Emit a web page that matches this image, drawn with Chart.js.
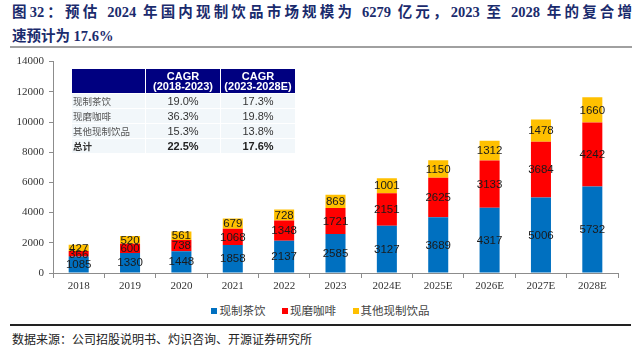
<!DOCTYPE html>
<html>
<head>
<meta charset="utf-8">
<script src="https://cdn.jsdelivr.net/npm/chart.js@4.4.1/dist/chart.umd.min.js"></script>
<style>
  body { margin: 0; background: #fff; width: 641px; height: 359px; overflow: hidden; position: relative; font-family: "Liberation Serif", "Noto Sans CJK SC", serif; }
  .title { position: absolute; left: 12px; top: 0; width: 620px; color: #1a2b6d; font-weight: bold; font-size: 14.5px; line-height: 24px; }
  .title .l1 { text-align: justify; text-align-last: justify; }
  .rule1 { position: absolute; left: 10px; top: 46px; width: 622px; height: 2px; background: #a0a0a0; }
  .rule2 { position: absolute; left: 10px; top: 324px; width: 621px; height: 1.5px; background: #222; }
  .source { position: absolute; left: 12px; top: 330px; font-size: 12px; color: #222; font-family: "Noto Sans CJK SC", sans-serif; }
  #wrap { position: absolute; left: 0; top: 50px; width: 641px; height: 250px; }
  .legend { position: absolute; top: 302px; left: 0; width: 641px; text-align: center; font-size: 11.5px; color: #444; font-family: "Noto Sans CJK SC", sans-serif; }
  .legend span.item { margin: 0 7px; }
  .legend i { display: inline-block; width: 6px; height: 6px; margin-right: 2px; vertical-align: 1px; }
  table.cagr { position: absolute; left: 71px; top: 68px; border-collapse: separate; border-spacing: 1px; font-family: "Liberation Sans", Arial, sans-serif; }
  table.cagr td { padding: 0; height: 14px; font-size: 11px; color: #333; background: #f2f7fa; text-align: center; line-height: 14px; }
  table.cagr td.n { text-align: left; padding-left: 1px; font-size: 9.5px; color: #555; font-family: "Noto Sans CJK SC", sans-serif; }
  table.cagr tr.h td { background: #000080; color: #fff; font-weight: bold; height: 24px; line-height: 10.5px; }
  table.cagr tr.t td { font-weight: bold; color: #222; }
</style>
</head>
<body>
<div class="title">
  <div class="l1">图32：预估 2024 年国内现制饮品市场规模为 6279 亿元，2023 至 2028 年的复合增</div>
  <div>速预计为 17.6%</div>
</div>
<div class="rule1"></div>
<div id="wrap"><canvas id="chart"></canvas></div>
<table class="cagr">
  <tr class="h"><td style="width:73px"></td><td style="width:74px">CAGR<br>(2018-2023)</td><td style="width:74px">CAGR<br>(2023-2028E)</td></tr>
  <tr><td class="n">现制茶饮</td><td>19.0%</td><td>17.3%</td></tr>
  <tr><td class="n">现磨咖啡</td><td>36.3%</td><td>19.8%</td></tr>
  <tr><td class="n">其他现制饮品</td><td>15.3%</td><td>13.8%</td></tr>
  <tr class="t"><td class="n" style="font-weight:bold;color:#333">总计</td><td>22.5%</td><td>17.6%</td></tr>
</table>
<div class="legend">
  <span class="item"><i style="background:#0070C0"></i>现制茶饮</span>
  <span class="item"><i style="background:#FF0000"></i>现磨咖啡</span>
  <span class="item"><i style="background:#FFC000"></i>其他现制饮品</span>
</div>
<div class="rule2"></div>
<div class="source">数据来源：公司招股说明书、灼识咨询、开源证券研究所</div>

<script>
const years = ['2018', '2019', '2020', '2021', '2022', '2023', '2024E', '2025E', '2026E', '2027E', '2028E'];
const teaValues = [1085, 1330, 1448, 1858, 2137, 2585, 3127, 3689, 4317, 5006, 5732];
const coffeeValues = [366, 600, 738, 1068, 1348, 1721, 2151, 2625, 3133, 3684, 4242];
const otherValues = [427, 520, 561, 679, 728, 869, 1001, 1150, 1312, 1478, 1660];
const yTicks = [0, 2000, 4000, 6000, 8000, 10000, 12000, 14000];

// labels in the middle of each segment
const segmentLabels = {
  id: 'segmentLabels',
  afterDatasetsDraw(chart) {
    const ctx = chart.ctx;
    ctx.save();
    ctx.font = '11.5px "Liberation Sans", Arial, sans-serif';
    ctx.fillStyle = '#1a1a1a';
    ctx.textAlign = 'center';
    ctx.textBaseline = 'middle';
    chart.data.datasets.forEach((ds, i) => {
      chart.getDatasetMeta(i).data.forEach((bar, j) => {
        const p = bar.getProps(['x', 'y', 'base'], true);
        ctx.fillText(ds.data[j], p.x, (p.y + p.base) / 2 + 0.5);
      });
    });
    ctx.restore();
  }
};

const axisColor = '#8c8c8c';

new Chart(document.getElementById('chart'), {
  type: 'bar',
  data: {
    labels: years,
    datasets: [
      { label: '现制茶饮', data: teaValues, backgroundColor: '#0070C0' },
      { label: '现磨咖啡', data: coffeeValues, backgroundColor: '#FF0000' },
      { label: '其他现制饮品', data: otherValues, backgroundColor: '#FFC000' }
    ]
  },
  options: {
    responsive: true,
    maintainAspectRatio: false,
    animation: false,
    layout: { padding: { top: 10, right: 23, left: 0, bottom: 0 } },
    datasets: { bar: { barPercentage: 0.39, categoryPercentage: 1 } },
    plugins: { legend: { display: false }, tooltip: { enabled: false } },
    scales: {
      x: {
        stacked: true,
        afterFit(s) { s.height = 27; },
        border: { display: true, color: axisColor, width: 1 },
        grid: { display: true, drawOnChartArea: false, tickLength: 5, color: axisColor, offset: true },
        ticks: { color: '#333', padding: 2, font: { family: '"Liberation Serif", serif', size: 11 }, maxRotation: 0 }
      },
      y: {
        stacked: true,
        min: 0,
        max: 14000,
        afterFit(s) { s.width = 53; },
        afterBuildTicks(s) { s.ticks = yTicks.map(v => ({ value: v })); },
        border: { display: true, color: axisColor, width: 1 },
        grid: { display: true, drawOnChartArea: false, tickLength: 4, color: axisColor },
        ticks: { color: '#333', padding: 5, font: { family: '"Liberation Serif", serif', size: 11 }, callback: v => String(v) }
      }
    }
  },
  plugins: [segmentLabels]
});
</script>
</body>
</html>
